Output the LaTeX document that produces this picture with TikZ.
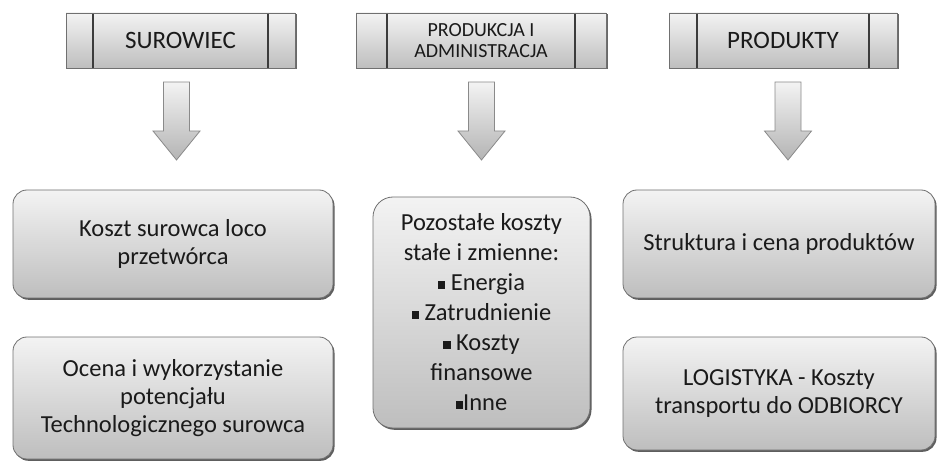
\documentclass[tikz,border=0pt]{standalone}
\usepackage{fontspec}
\setmainfont{Carlito}
\usetikzlibrary{shadows,calc}
\definecolor{txt}{HTML}{1A1A1A}
\definecolor{bord}{HTML}{707070}
\definecolor{gtop}{HTML}{F3F3F3}
\definecolor{gbot}{HTML}{BEBEBE}
\definecolor{divline}{HTML}{3C3C3C}
\definecolor{arrbord}{HTML}{8A8A8A}
\definecolor{arrbot}{HTML}{B4B4B4}
\newcommand{\sqb}{\raisebox{0.2ex}{\rule{0.3em}{0.3em}}}
\begin{document}
\begin{tikzpicture}[x=1pt,y=-1pt,
  hdr/.style={draw=bord, line width=0.8pt, top color=gtop, bottom color=gbot,
    minimum height=55pt, inner sep=0pt, align=center, text=txt,
    drop shadow={shadow xshift=1.5pt, shadow yshift=-1.5pt, fill=black!65, opacity=0.9},
    path picture={
      \draw[divline, line width=1.6pt]
        ([xshift=#1]path picture bounding box.north west) -- ([xshift=#1]path picture bounding box.south west);
      \draw[divline, line width=1.6pt]
        ([xshift=-#1]path picture bounding box.north east) -- ([xshift=-#1]path picture bounding box.south east);
    }},
  cbox/.style={draw=bord, line width=0.8pt, rounded corners=14pt, top color=gtop, bottom color=gbot,
    inner sep=0pt, align=center, text=txt, font=\fontsize{24.5}{28}\selectfont,
    drop shadow={shadow xshift=1.5pt, shadow yshift=-1.8pt, fill=black!70, opacity=0.9}},
  barrow/.style={draw=arrbord, line width=0.8pt, top color=gtop, bottom color=arrbot}
]
\useasboundingbox (0,0) rectangle (937,462);

% headers
\node[hdr=27pt, minimum width=229pt, font=\fontsize{25}{28}\selectfont] (h1) at (180.5,40.5) {SUROWIEC};
\node[hdr=31pt, minimum width=250pt, font=\fontsize{20}{21}\selectfont] (h2) at (481,40.5) {PRODUKCJA I\\ADMINISTRACJA};
\node[hdr=28pt, minimum width=228pt, font=\fontsize{25}{28}\selectfont] (h3) at (783,40.5) {PRODUKTY};

% block arrows
\foreach \c/\n in {176.5/1,481.5/2,788/3}{
  \coordinate (a\n) at (\c,82);
  \draw[barrow] ($(a\n)+(-13,0)$) -- ($(a\n)+(13,0)$) -- ($(a\n)+(13,49)$) -- ($(a\n)+(23.5,49)$)
     -- ($(a\n)+(0,78)$) -- ($(a\n)+(-23.5,49)$) -- ($(a\n)+(-13,49)$) -- cycle;
}

% content boxes
\node[cbox, minimum width=320pt, minimum height=108pt] (b1) at (173,244) {Koszt surowca loco\\przetwórca};
\node[cbox, minimum width=320pt, minimum height=122pt] (b2) at (173,398) {Ocena i wykorzystanie\\potencjału\\Technologicznego surowca};
\node[cbox, rounded corners=20pt, minimum width=217pt, minimum height=231pt, font=\fontsize{24.5}{30}\selectfont] (m) at (481.5,312.5)
  {Pozostałe koszty\\stałe i zmienne:\\\sqb\ Energia\\\sqb\ Zatrudnienie\\\sqb\ Koszty\\finansowe\\\sqb Inne};
\node[cbox, minimum width=312pt, minimum height=108pt] (r1) at (779,244) {Struktura i cena produktów};
\node[cbox, minimum width=312pt, minimum height=113pt] (r2) at (779,393.5) {LOGISTYKA - Koszty\\transportu do ODBIORCY};
\end{tikzpicture}
\end{document}
